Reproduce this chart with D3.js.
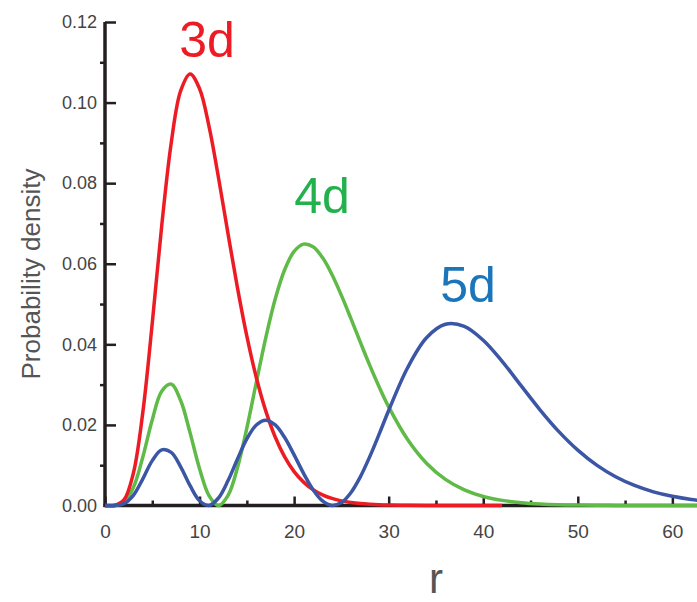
<!DOCTYPE html>
<html>
<head>
<meta charset="utf-8">
<script src="https://cdn.jsdelivr.net/npm/d3@7"></script>
<style>
  html, body { margin: 0; padding: 0; background: #fff; }
  svg { display: block; }
</style>
</head>
<body>
<div id="chart"></div>
<script>
// ---- data ----
const radius = [0,1,2,3,4,5,6,7,8,9,10,11,12,13,14,15,16,17,18,19,20,21,22,23,24,25,26,27,28,29,30,
  32,34,36,38,40,42,44,46,48,50,52,54,56,58,60,62,64];

const density3d = [0,0.00004,0.00137,0.00802,0.02314,0.04532,0.06948,0.08993,0.10289,0.10709,0.10345,0.09410,0.08141,0.06760,0.05414,0.04204,0.03178,0.02348,0.01699,0.01206,0.00842,0.00580,0.00393,0.00264,0.00175,0.00115,0.00075,0.00048,0.00031,0.00019,0.00012,
  0.00005,0.00002,0.00001,0,0,0,null,null,null,null,null,null,null,null,null,null,null];

const density4d = [0,0.00002,0.00080,0.00447,0.01203,0.02131,0.02836,0.03012,0.02605,0.01802,0.00914,0.00246,0,0.00246,0.00931,0.01923,0.03053,0.04162,0.05125,0.05852,0.06306,0.06487,0.06421,0.06153,0.05734,0.05215,0.04643,0.04053,0.03478,0.02940,0.02449,
  0.01639,0.01050,0.00647,0.00387,0.00224,0.00127,0.00070,0.00038,0.00020,0.00011,0.00005,0.00003,0.00001,0.00001,0,0,0];

const density5d = [0,0.00001,0.00046,0.00253,0.00660,0.01114,0.01380,0.01317,0.00961,0.00491,0.00119,0.00002,0.00186,0.00612,0.01149,0.01652,0.01998,0.02117,0.02000,0.01687,0.01256,0.00797,0.00393,0.00113,0.00001,0.00072,0.00318,0.00711,0.01213,0.01776,0.02358,
  0.03419,0.04163,0.04497,0.04446,0.04101,0.03576,0.02974,0.02376,0.01834,0.01374,0.01001,0.00713,0.00497,0.00339,0.00228,0.00150,0.00098];

const seriesNames = ["4d", "3d", "5d"];
const xTicks = [0, 10, 20, 30, 40, 50, 60];
const xMinorTicks = [5, 15, 25, 35, 45, 55];
const yTicks = [0, 0.02, 0.04, 0.06, 0.08, 0.10, 0.12];
const yMinorTicks = [0.01, 0.03, 0.05, 0.07, 0.09, 0.11];
const yTickLabels = ["0.00", "0.02", "0.04", "0.06", "0.08", "0.10", "0.12"];
const xTitle = "r";
const yTitle = "Probability density";

// ---- layout ----
const W = 697, H = 602;
const svg = d3.select("#chart").append("svg").attr("width", W).attr("height", H);

const x = d3.scaleLinear().domain([0, 62.5]).range([105, 696]);
const y = d3.scaleLinear().domain([0, 0.12]).range([505.5, 22]);

const colors = { "3d": "#ed1c24", "4d": "#5fba47", "5d": "#3b56a5" };
const labelColors = { "3d": "#ed1c24", "4d": "#22b14c", "5d": "#1b75bb" };
const dataBy = { "3d": density3d, "4d": density4d, "5d": density5d };

const axisColor = "#231f20";
const font = "Liberation Sans, Arial, sans-serif";

// y axis
const yAxisMajor = d3.axisRight(y).tickValues(yTicks).tickSize(11).tickFormat("");
const gy = svg.append("g").attr("transform", `translate(${x(0)},0)`).call(yAxisMajor);
gy.select(".domain").remove();
gy.selectAll(".tick line").attr("stroke", axisColor).attr("stroke-width", 2.5);

const yAxisMinor = d3.axisLeft(y).tickValues(yMinorTicks).tickSize(5).tickFormat("");
const gym = svg.append("g").attr("transform", `translate(${x(0)},0)`).call(yAxisMinor);
gym.select(".domain").remove();
gym.selectAll(".tick line").attr("stroke", axisColor).attr("stroke-width", 2.5);

const yAxisLabels = d3.axisLeft(y).tickValues(yTicks).tickSize(0).tickPadding(8)
  .tickFormat((d, i) => yTickLabels[i]);
const gyl = svg.append("g").attr("transform", `translate(${x(0)},0)`).call(yAxisLabels);
gyl.select(".domain").remove();
gyl.selectAll("text").attr("font-family", font)
  .attr("font-size", 18).attr("fill", "#444");

// x axis
const xAxisMajor = d3.axisTop(x).tickValues(xTicks).tickSize(9).tickFormat("");
const gx = svg.append("g").attr("transform", `translate(0,${y(0)})`).call(xAxisMajor);
gx.select(".domain").remove();
gx.selectAll(".tick line").attr("stroke", axisColor).attr("stroke-width", 2.5);

const xAxisMinor = d3.axisTop(x).tickValues(xMinorTicks).tickSize(5).tickFormat("");
const gxm = svg.append("g").attr("transform", `translate(0,${y(0)})`).call(xAxisMinor);
gxm.select(".domain").remove();
gxm.selectAll(".tick line").attr("stroke", axisColor).attr("stroke-width", 2.5);

const xAxisLabels = d3.axisBottom(x).tickValues(xTicks).tickSize(0).tickPadding(19)
  .tickFormat(d3.format("d"));
const gxl = svg.append("g").attr("transform", `translate(0,${y(0)})`).call(xAxisLabels);
gxl.select(".domain").remove();
gxl.selectAll("text").attr("font-family", font)
  .attr("font-size", 19).attr("fill", "#444");

// axis lines
svg.append("line").attr("x1", x(0)).attr("x2", x(0)).attr("y1", y(0.12)).attr("y2", y(0) + 1.5)
  .attr("stroke", axisColor).attr("stroke-width", 3.5);
svg.append("line").attr("x1", x(0) - 1.5).attr("x2", W).attr("y1", y(0)).attr("y2", y(0))
  .attr("stroke", axisColor).attr("stroke-width", 3.5);

// curves
const line = d3.line()
  .defined(d => d[1] !== null)
  .x(d => x(d[0]))
  .y(d => y(d[1]))
  .curve(d3.curveCatmullRom.alpha(0.5));

seriesNames.forEach(name => {
  const pts = radius.map((r, i) => [r, dataBy[name][i]]);
  svg.append("path")
    .datum(pts)
    .attr("d", line)
    .attr("fill", "none")
    .attr("stroke", colors[name])
    .attr("stroke-width", 3.5)
    .attr("stroke-linejoin", "round");
});

// series labels
const labelPos = { "3d": [207, 57], "4d": [322, 213], "5d": [468, 302] };
seriesNames.forEach(name => {
  svg.append("text")
    .attr("x", labelPos[name][0]).attr("y", labelPos[name][1])
    .attr("text-anchor", "middle")
    .attr("font-family", font)
    .attr("font-size", 50)
    .attr("fill", labelColors[name])
    .text(name);
});

// axis titles
svg.append("text")
  .attr("transform", `translate(40,274) rotate(-90)`)
  .attr("text-anchor", "middle")
  .attr("font-family", font)
  .attr("font-size", 26)
  .attr("fill", "#555")
  .text(yTitle);

svg.append("text")
  .attr("x", 436).attr("y", 593)
  .attr("text-anchor", "middle")
  .attr("font-family", font)
  .attr("font-size", 42)
  .attr("fill", "#555")
  .text(xTitle);
</script>
</body>
</html>
